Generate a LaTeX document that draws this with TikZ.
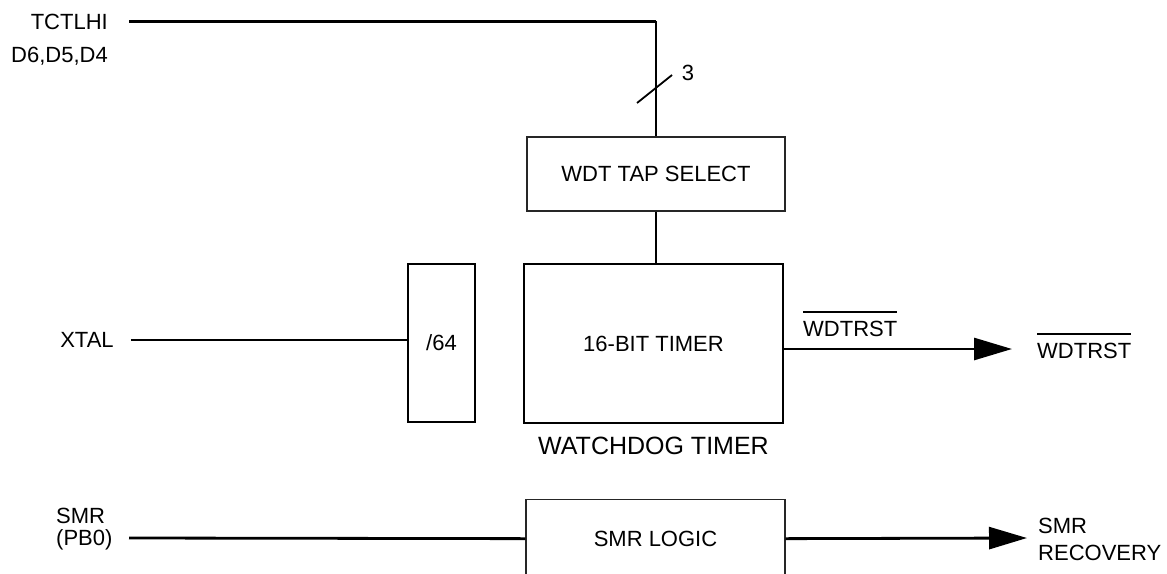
\documentclass[tikz,border=0pt]{standalone}
\usepackage{fontspec}
\setmainfont{Liberation Sans}
\usetikzlibrary{positioning,arrows.meta}
\newcommand{\lowsig}[1]{\vbox{\hrule height 1.4pt\kern 8pt\hbox{#1}}}
\tikzset{
  lbl/.style={inner sep=0pt,font=\fontsize{22}{26}\selectfont},
  blk/.style={draw,line width=2.8pt,inner sep=0pt,font=\fontsize{22}{26}\selectfont},
  thinblk/.style={draw=black!85,line width=1.3pt,inner sep=0pt,font=\fontsize{22}{26}\selectfont},
  bus/.style={line width=2.8pt},
  wire/.style={line width=1.2pt},
  sigout/.style={line width=2.8pt,-{Triangle[length=38pt,width=22pt]}}
}
\begin{document}
\begin{tikzpicture}[x=1pt,y=-1pt]
\useasboundingbox (0,0) rectangle (1167,573);
\clip (0,0) rectangle (1167,573);
\node[lbl,anchor=base east] (tctlhi) at (108,29) {TCTLHI};
\node[lbl,anchor=base east] (dbits) at (108,62) {D6,D5,D4};
\node[thinblk,minimum width=258pt,minimum height=74pt] (tap) at (656,174) {WDT TAP SELECT};
\node[blk,minimum width=67pt,minimum height=158pt] (div) at (441.5,343) {/64};
\node[blk,minimum width=259pt,minimum height=159pt] (timer) at (653.5,343.5) {16-BIT TIMER};
\node[lbl,font=\fontsize{25}{30}\selectfont,below=12pt of timer] (wdog) {WATCHDOG TIMER};
\node[thinblk,minimum width=259pt,minimum height=78pt,anchor=north] (smr) at (655.5,499) {SMR LOGIC};

\draw[bus] ([xshift=21pt]tctlhi.east) -- (tctlhi -| tap.north) coordinate (bend);
\draw[wire] (bend) -- (tap.north);
\draw[line width=1.8pt] (637,103) -- (672,75);
\node[lbl] (width) at (688,73) {3};
\draw[wire] (tap.south) -- (tap.south |- timer.north);

\node[lbl] (xtal) at (87,340) {XTAL};
\draw[bus] ([xshift=17pt]xtal.east) -- (xtal -| div.west);

\node[lbl,anchor=base west] (wdtin) at (803,336) {\lowsig{WDTRST}};
\node[lbl,anchor=base west] (wdtout) at (1037,358) {\lowsig{WDTRST}};
\coordinate (wdtend) at (1012,349);
\draw[sigout] (timer.east |- wdtend) -- (wdtend);

\foreach \yy/\txt [count=\i] in {523/SMR,545/{(PB0)}}
  \node[lbl,anchor=base west] (smrin\i) at (56,\yy) {\txt};
\foreach \yy/\txt [count=\i] in {533/SMR,560/RECOVERY}
  \node[lbl,anchor=base west] (smrout\i) at (1038,\yy) {\txt};
\coordinate (smrstart) at (129,538);
\coordinate (smrend) at (1027,538);
\draw[bus] (smrstart) -- (smr.west);
\draw[sigout] (smr.east) -- (smrend);
\end{tikzpicture}
\end{document}
